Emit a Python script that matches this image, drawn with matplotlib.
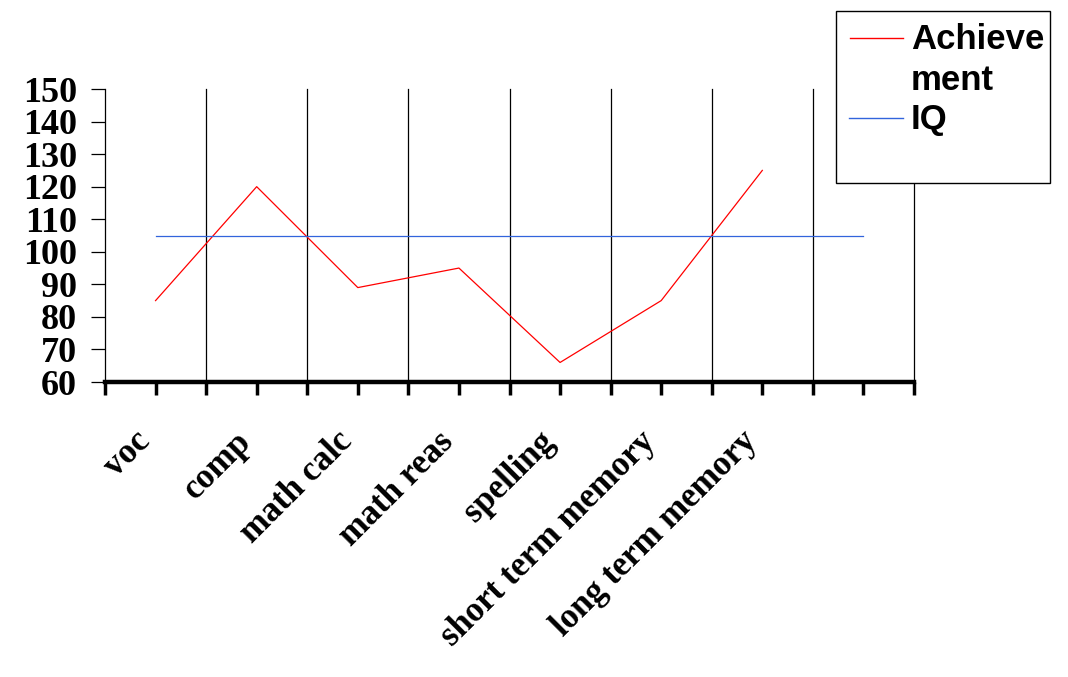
import matplotlib
matplotlib.use("Agg")
import matplotlib.pyplot as plt
from matplotlib.lines import Line2D
from matplotlib.patches import Rectangle

categories = ["voc", "comp", "math calc", "math reas", "spelling",
              "short term memory", "long term memory", ""]
achievement = [85, 120, 89, 95, 66, 85, 125]
iq = [105, 105, 105, 105, 105, 105, 105, 105]
yticks = [60, 70, 80, 90, 100, 110, 120, 130, 140, 150]

W, H = 1068, 677
fig = plt.figure(figsize=(W / 100, H / 100), dpi=100)
ax = fig.add_axes([105 / W, 1 - 382 / H, (914 - 105) / W, (382 - 89) / H])

serif = ["Liberation Serif", "DejaVu Serif"]
sans = ["Liberation Sans", "DejaVu Sans"]

n = len(categories)
xc = [i + 0.5 for i in range(n)]

ax.plot(xc[:len(achievement)], achievement, color="#ff0000", lw=0.9)
ax.plot(xc[:len(iq)], iq, color="#3264dc", lw=0.9)

ax.set_xlim(0, n)
ax.set_ylim(60, 150)

# vertical gridlines at category boundaries
for b in range(1, n + 1):
    ax.axvline(b, color="black", lw=0.9, zorder=0, clip_on=False)

for s in ["top", "right"]:
    ax.spines[s].set_visible(False)
ax.spines["left"].set_linewidth(0.9)
ax.spines["bottom"].set_linewidth(3.2)

ax.set_yticks(yticks)
ax.set_yticklabels([str(v) for v in yticks], fontfamily=serif,
                   fontweight="bold", fontsize=26)
ax.tick_params(axis="y", direction="out", length=10, width=0.9, pad=10)

ax.set_xticks([i * 0.5 for i in range(2 * n + 1)])
ax.set_xticklabels([])
ax.tick_params(axis="x", direction="out", length=9, width=2.5)

# category labels rotated 45 degrees, ending near each category centre
for i, lab in enumerate(categories):
    if not lab:
        continue
    ax.annotate(lab, xy=(xc[i], 60), xycoords="data",
                xytext=(-16, -31), textcoords="offset points",
                rotation=45, rotation_mode="anchor", ha="right", va="top",
                fontfamily=serif, fontweight="bold", fontsize=25,
                annotation_clip=False)

# legend box
fig.patches.append(Rectangle((836 / W, 1 - 183 / H), (1050 - 836) / W,
                             (183 - 11) / H, transform=fig.transFigure,
                             facecolor="white", edgecolor="black", lw=1.0,
                             zorder=5))
fig.lines.append(Line2D([850 / W, 903 / W], [1 - 38 / H, 1 - 38 / H],
                        transform=fig.transFigure, color="#ff0000", lw=1.0,
                        zorder=6))
fig.lines.append(Line2D([849 / W, 903 / W], [1 - 118 / H, 1 - 118 / H],
                        transform=fig.transFigure, color="#3264dc", lw=1.0,
                        zorder=6))
fig.text(911 / W, 1 - 49 / H, "Achieve", fontfamily=sans, fontweight="bold",
         fontsize=25, va="baseline", ha="left", zorder=7)
fig.text(911 / W, 1 - 90 / H, "ment", fontfamily=sans, fontweight="bold",
         fontsize=25, va="baseline", ha="left", zorder=7)
fig.text(911 / W, 1 - 129 / H, "IQ", fontfamily=sans, fontweight="bold",
         fontsize=25, va="baseline", ha="left", zorder=7)

fig.savefig("out.png", dpi=100, facecolor="white")
